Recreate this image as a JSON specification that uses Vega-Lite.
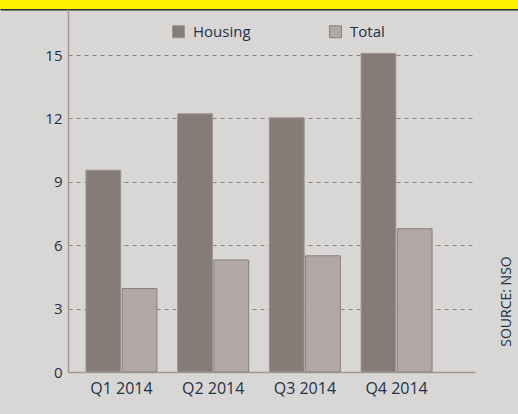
{
  "$schema": "https://vega.github.io/schema/vega-lite/v6.json",
  "background": "#d8d7d6",
  "padding": {"left": 0, "top": 0, "right": 0, "bottom": 20},
  "spacing": 0,
  "align": "none",
  "config": {"view": {"stroke": null}, "font": "Open Sans"},
  "vconcat": [
    {
      "width": 450,
      "height": 9,
      "data": {"values": [{"from": 0, "to": 1}]},
      "mark": {"type": "rect", "fill": "#fff200"},
      "encoding": {
        "x": {"field": "from", "type": "quantitative", "scale": {"domain": [0, 1], "range": [-68, 450]},
          "axis": {"title": null, "labels": false, "ticks": false, "grid": false, "domainColor": "#2b2b2b", "domainWidth": 2}},
        "x2": {"field": "to"}
      }
    },
    {
      "width": 407,
      "height": 363,
      "title": {"text": "SOURCE: NSO", "orient": "right", "anchor": "middle", "angle": 270, "dx": -111, "offset": 11, "fontSize": 14, "fontWeight": "normal", "color": "#1e3246", "font": "Open Sans"},
      "data": {"values": [
        {"quarter": "Q1 2014", "series": "Housing", "value": 9.55},
        {"quarter": "Q1 2014", "series": "Total", "value": 3.95},
        {"quarter": "Q2 2014", "series": "Housing", "value": 12.22},
        {"quarter": "Q2 2014", "series": "Total", "value": 5.3},
        {"quarter": "Q3 2014", "series": "Housing", "value": 12.03},
        {"quarter": "Q3 2014", "series": "Total", "value": 5.5},
        {"quarter": "Q4 2014", "series": "Housing", "value": 15.08},
        {"quarter": "Q4 2014", "series": "Total", "value": 6.78}
      ]},
      "mark": {"type": "bar", "strokeWidth": 1},
      "encoding": {
        "x": {"field": "quarter", "type": "nominal", "sort": null,
          "scale": {"paddingInner": 0.226, "paddingOuter": 0.332, "align": 0.295},
          "axis": {"title": null, "labelAngle": 0, "ticks": false, "labelPadding": 8, "labelFontSize": 16, "labelColor": "#1e3246", "domainColor": "#a39a98", "domainWidth": 1.5}},
        "xOffset": {"field": "series", "type": "nominal", "scale": {"paddingInner": 0.04}},
        "y": {"field": "value", "type": "quantitative", "scale": {"domain": [0, 17.18], "nice": false},
          "axis": {"title": null, "values": [0, 3, 6, 9, 12, 15], "ticks": false, "labelPadding": 6, "labelFontSize": 15, "labelColor": "#1e3246",
            "domainColor": "#a39a98", "domainWidth": 1.5, "gridColor": "#8e8482", "gridDash": [4, 4], "gridWidth": 1, "minExtent": 68}},
        "fill": {"field": "series", "type": "nominal", "scale": {"domain": ["Housing", "Total"], "range": ["#857b77", "#b1a8a5"]},
          "legend": {"title": null, "orient": "none", "legendX": 103, "legendY": 24, "direction": "horizontal", "columnPadding": 76,
            "symbolType": "square", "symbolSize": 144, "symbolStrokeColor": "#978d89", "symbolStrokeWidth": 1, "labelFontSize": 15, "labelColor": "#1e3246", "labelOffset": 7}},
        "stroke": {"field": "series", "type": "nominal", "scale": {"domain": ["Housing", "Total"], "range": ["#9d9491", "#8a807c"]}, "legend": null}
      }
    }
  ]
}
